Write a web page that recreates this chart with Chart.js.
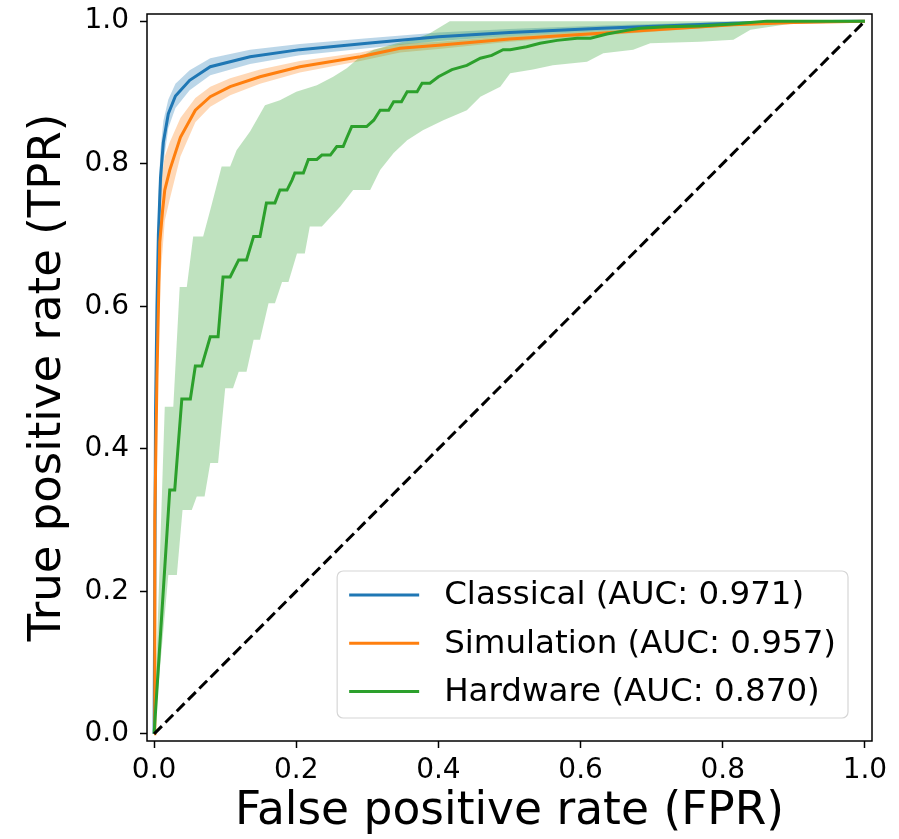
<!DOCTYPE html>
<html>
<head>
<meta charset="utf-8">
<script src="https://cdn.jsdelivr.net/npm/chart.js@4.4.1/dist/chart.umd.min.js"></script>
<style>
  html, body { margin: 0; padding: 0; background: #fff; }
  #wrap { width: 899px; height: 839px; }
</style>
</head>
<body>
<div id="wrap"><canvas id="roc" width="899" height="839"></canvas></div>
<script>
// --- data ---
const seriesNames = ['Classical', 'Simulation', 'Hardware'];
const aucValues = ['0.971', '0.957', '0.870'];
const xTicks = [0, 0.2, 0.4, 0.6, 0.8, 1.0];
const yTicks = [0, 0.2, 0.4, 0.6, 0.8, 1.0];

// Classical (mean curve and band)
const classicalFpr = [0, 0.002, 0.004, 0.006, 0.009, 0.013, 0.02, 0.03, 0.05, 0.079, 0.135, 0.205, 0.30, 0.40, 0.50, 0.63, 0.815, 0.90, 1.0];
const classicalTpr = [0, 0.45, 0.6, 0.7, 0.78, 0.83, 0.87, 0.895, 0.917, 0.936, 0.95, 0.96, 0.969, 0.978, 0.984, 0.99, 0.997, 0.999, 1.0];
const classicalLo  = [0, 0.40, 0.55, 0.65, 0.74, 0.80, 0.85, 0.878, 0.903, 0.924, 0.94, 0.952, 0.962, 0.972, 0.979, 0.986, 0.995, 0.998, 1.0];
const classicalHi  = [0, 0.50, 0.65, 0.75, 0.82, 0.86, 0.89, 0.912, 0.931, 0.948, 0.96, 0.968, 0.976, 0.984, 0.989, 0.994, 0.999, 1.0, 1.0];

// Simulation
const simFpr = [0, 0.001, 0.004, 0.008, 0.012, 0.015, 0.022, 0.037, 0.058, 0.079, 0.107, 0.149, 0.205, 0.29, 0.346, 0.40, 0.5, 0.628, 0.815, 0.9, 1.0];
const simTpr = [0, 0.3, 0.5, 0.69, 0.735, 0.763, 0.791, 0.837, 0.875, 0.894, 0.908, 0.922, 0.936, 0.95, 0.962, 0.966, 0.975, 0.983, 0.995, 0.998, 1.0];
const simLo  = [0, 0.25, 0.44, 0.63, 0.68, 0.72, 0.75, 0.81, 0.858, 0.88, 0.896, 0.912, 0.928, 0.944, 0.956, 0.961, 0.971, 0.98, 0.993, 0.997, 1.0];
const simHi  = [0, 0.35, 0.56, 0.75, 0.79, 0.81, 0.83, 0.864, 0.892, 0.908, 0.92, 0.932, 0.944, 0.956, 0.968, 0.971, 0.979, 0.986, 0.997, 0.999, 1.0];

// Hardware (stepped mean curve)
const hwFpr = [0, 0.022, 0.029, 0.039, 0.051, 0.058, 0.067, 0.079, 0.090, 0.097, 0.107, 0.119, 0.130, 0.140, 0.149, 0.158, 0.170, 0.177, 0.187, 0.194, 0.198, 0.210, 0.217, 0.229, 0.236, 0.248, 0.257, 0.266, 0.271, 0.278, 0.299, 0.309, 0.318, 0.330, 0.337, 0.348, 0.356, 0.370, 0.377, 0.388, 0.400, 0.419, 0.440, 0.459, 0.475, 0.491, 0.501, 0.524, 0.543, 0.567, 0.595, 0.614, 0.637, 0.665, 0.684, 0.721, 0.768, 0.815, 0.839, 0.862, 1.0];
const hwTpr = [0, 0.342, 0.342, 0.470, 0.470, 0.516, 0.516, 0.557, 0.557, 0.641, 0.641, 0.665, 0.665, 0.698, 0.698, 0.745, 0.745, 0.763, 0.763, 0.777, 0.787, 0.787, 0.806, 0.806, 0.812, 0.812, 0.824, 0.824, 0.836, 0.852, 0.852, 0.861, 0.875, 0.875, 0.887, 0.887, 0.901, 0.901, 0.913, 0.913, 0.922, 0.932, 0.938, 0.948, 0.952, 0.960, 0.960, 0.964, 0.969, 0.973, 0.976, 0.976, 0.982, 0.987, 0.990, 0.992, 0.993, 0.996, 0.998, 1.0, 1.0];
const hwLoFpr = [0, 0.020, 0.032, 0.040, 0.053, 0.060, 0.071, 0.079, 0.090, 0.100, 0.111, 0.119, 0.130, 0.140, 0.149, 0.161, 0.170, 0.180, 0.189, 0.201, 0.212, 0.219, 0.236, 0.262, 0.280, 0.304, 0.318, 0.337, 0.356, 0.378, 0.407, 0.440, 0.459, 0.487, 0.501, 0.533, 0.561, 0.609, 0.632, 0.674, 0.698, 0.768, 0.815, 0.839, 0.886, 0.93, 1.0];
const hwLo    = [0, 0.223, 0.223, 0.314, 0.314, 0.333, 0.333, 0.380, 0.380, 0.485, 0.485, 0.508, 0.508, 0.553, 0.553, 0.604, 0.604, 0.634, 0.634, 0.674, 0.674, 0.712, 0.712, 0.740, 0.763, 0.763, 0.791, 0.815, 0.833, 0.847, 0.861, 0.875, 0.894, 0.908, 0.927, 0.932, 0.938, 0.943, 0.955, 0.960, 0.969, 0.971, 0.974, 0.988, 0.995, 1.0, 1.0];
const hwHiFpr = [0, 0.015, 0.027, 0.036, 0.046, 0.055, 0.069, 0.079, 0.095, 0.107, 0.116, 0.135, 0.156, 0.177, 0.200, 0.229, 0.252, 0.271, 0.290, 0.309, 0.341, 0.365, 0.388, 0.416, 1.0];
const hwHi    = [0, 0.459, 0.459, 0.627, 0.627, 0.698, 0.698, 0.735, 0.796, 0.796, 0.819, 0.845, 0.882, 0.889, 0.901, 0.910, 0.922, 0.934, 0.950, 0.960, 0.969, 0.974, 0.983, 1.0, 1.0];

const chanceLine = [0, 1];

const FONT = '"DejaVu Sans", sans-serif';
const pts = (xs, ys) => xs.map((x, i) => ({ x: x, y: ys[i] }));

function band(xs, ys, color, fillTo, order) {
    return {
        data: pts(xs, ys), borderWidth: 0, pointRadius: 0, tension: 0,
        backgroundColor: color, fill: fillTo, order: order
    };
}
function curve(label, xs, ys, color, order) {
    return {
        label: label, data: pts(xs, ys), borderColor: color, borderWidth: 3,
        pointRadius: 0, tension: 0, fill: false, order: order, inLegend: true
    };
}

const datasets = [
    band(classicalFpr, classicalHi, 'rgba(31,119,180,0.3)', 1, 9),
    band(classicalFpr, classicalLo, 'rgba(31,119,180,0.3)', false, 8),
    band(simFpr, simHi, 'rgba(255,127,14,0.3)', 3, 7),
    band(simFpr, simLo, 'rgba(255,127,14,0.3)', false, 6),
    band(hwHiFpr, hwHi, 'rgba(44,160,44,0.3)', 5, 5),
    band(hwLoFpr, hwLo, 'rgba(44,160,44,0.3)', false, 4),
    curve(seriesNames[0] + ' (AUC: ' + aucValues[0] + ')', classicalFpr, classicalTpr, '#1f77b4', 3),
    curve(seriesNames[1] + ' (AUC: ' + aucValues[1] + ')', simFpr, simTpr, '#ff7f0e', 2),
    curve(seriesNames[2] + ' (AUC: ' + aucValues[2] + ')', hwFpr, hwTpr, '#2ca02c', 1),
    {
        data: pts(chanceLine, chanceLine), borderColor: '#000', borderWidth: 3,
        borderDash: [11, 5], pointRadius: 0, fill: false, order: 0
    }
];

// frame around the axes (all four spines)
const frame = {
    id: 'frame',
    afterDatasetsDraw(chart) {
        const a = chart.chartArea, ctx = chart.ctx;
        ctx.save();
        ctx.strokeStyle = '#000';
        ctx.lineWidth = 1.5;
        ctx.strokeRect(a.left, a.top, a.right - a.left, a.bottom - a.top);
        ctx.restore();
    }
};

// matplotlib-like legend in the lower right corner
const boxLegend = {
    id: 'boxLegend',
    afterDraw(chart) {
        const ctx = chart.ctx, a = chart.chartArea;
        const items = chart.data.datasets.filter(d => d.inLegend);
        ctx.save();
        ctx.font = '32.5px ' + FONT;
        const tw = Math.max(...items.map(d => ctx.measureText(d.label).width));
        const w = 107 + tw + 12, h = 147;
        const x0 = a.right - 24 - w, y0 = a.bottom - 23 - h;
        ctx.beginPath();
        ctx.roundRect(x0, y0, w, h, 6);
        ctx.fillStyle = 'rgba(255,255,255,0.8)';
        ctx.fill();
        ctx.strokeStyle = '#d6d6d6';
        ctx.lineWidth = 1.2;
        ctx.stroke();
        items.forEach((d, i) => {
            const cy = y0 + 24 + i * 48.3;
            ctx.beginPath();
            ctx.moveTo(x0 + 12, cy);
            ctx.lineTo(x0 + 82, cy);
            ctx.strokeStyle = d.borderColor;
            ctx.lineWidth = 3;
            ctx.stroke();
            ctx.fillStyle = '#000';
            ctx.textBaseline = 'middle';
            ctx.fillText(d.label, x0 + 107, cy + 1);
        });
        ctx.restore();
    }
};

const tickFmt = v => Number(v).toFixed(1);

new Chart(document.getElementById('roc'), {
    type: 'line',
    data: { datasets: datasets },
    options: {
        responsive: false,
        devicePixelRatio: 1,
        animation: false,
        events: [],
        layout: { padding: { top: 14, right: 27, left: 0, bottom: 0 } },
        plugins: { legend: { display: false }, tooltip: { enabled: false } },
        scales: {
            x: {
                type: 'linear', min: -0.01, max: 1.01,
                afterBuildTicks: s => { s.ticks = xTicks.map(v => ({ value: v })); },
                afterFit: s => { s.height = 98; s.paddingLeft = 0; s.paddingRight = 0; },
                border: { display: false },
                grid: { drawOnChartArea: false, color: '#000', tickLength: 7, tickWidth: 1.5 },
                ticks: { color: '#000', padding: 6, font: { family: FONT, size: 28 }, callback: tickFmt, maxRotation: 0 },
                title: { display: true, text: 'False positive rate (FPR)', color: '#000', font: { family: FONT, size: 45.5 }, padding: { top: 0, bottom: 0 } }
            },
            y: {
                type: 'linear', min: -0.01, max: 1.01,
                afterBuildTicks: s => { s.ticks = yTicks.map(v => ({ value: v })); },
                afterFit: s => { s.width = 147; s.paddingTop = 0; s.paddingBottom = 0; },
                border: { display: false },
                grid: { drawOnChartArea: false, color: '#000', tickLength: 7, tickWidth: 1.5 },
                ticks: { color: '#000', padding: 11, font: { family: FONT, size: 28 }, callback: tickFmt },
                title: { display: true, text: 'True positive rate (TPR)', color: '#000', font: { family: FONT, size: 45 }, padding: { top: 21, bottom: 0 } }
            }
        }
    },
    plugins: [frame, boxLegend]
});
</script>
</body>
</html>
